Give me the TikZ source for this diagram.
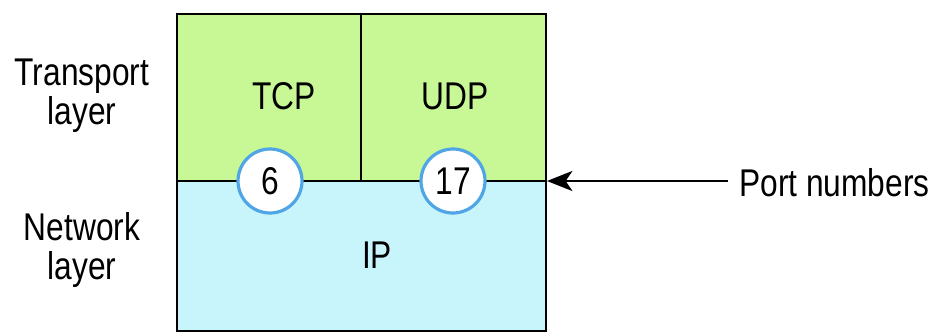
\documentclass[tikz,border=0pt]{standalone}
\usepackage{fontspec}
\setmainfont{Liberation Sans}[FakeStretch=0.82]
\usetikzlibrary{arrows.meta}
\definecolor{tgreen}{RGB}{200,247,150}
\definecolor{ncyan}{RGB}{200,244,252}
\definecolor{cblue}{RGB}{80,165,230}
\begin{document}
\begin{tikzpicture}[x=0.75pt,y=-0.75pt,
  lbl/.style={font=\fontsize{29}{29}\selectfont, inner sep=0pt, align=center},
  port/.style={circle, draw=cblue, line width=2.4pt, fill=white, minimum size=48pt, inner sep=0pt, font=\fontsize{29}{29}\selectfont},
  edge/.style={draw=black, line width=1.8pt}]
\useasboundingbox (0,0) rectangle (944,335);
\fill[tgreen] (177,14) rectangle (546,181);
\fill[ncyan] (177,181) rectangle (546,331);
\draw[edge] (177,14) rectangle (546,331);
\draw[edge] (177,181) -- (546,181);
\draw[edge] (361,14) -- (361,181);
\node[lbl] (tcp) at (284,96) {TCP};
\node[lbl] (udp) at (455,96) {UDP};
\node[lbl] (ip) at (377,255) {IP};
\node[port] (p6) at (270,181) {6};
\node[port] (p17) at (453,181) {17};
\node[lbl] (tl) at (82,96) {Transport\\layer};
\node[lbl] (nl) at (82,250) {Network\\layer};
\node[lbl, anchor=west] (pn) at (739,183) {Port numbers};
\coordinate (edgept) at (547,181);
\coordinate (tail) at (728,181);
\draw[line width=2pt, -{Stealth[length=19pt,width=15pt,inset=5pt]}] (tail) -- (edgept);
\end{tikzpicture}
\end{document}
